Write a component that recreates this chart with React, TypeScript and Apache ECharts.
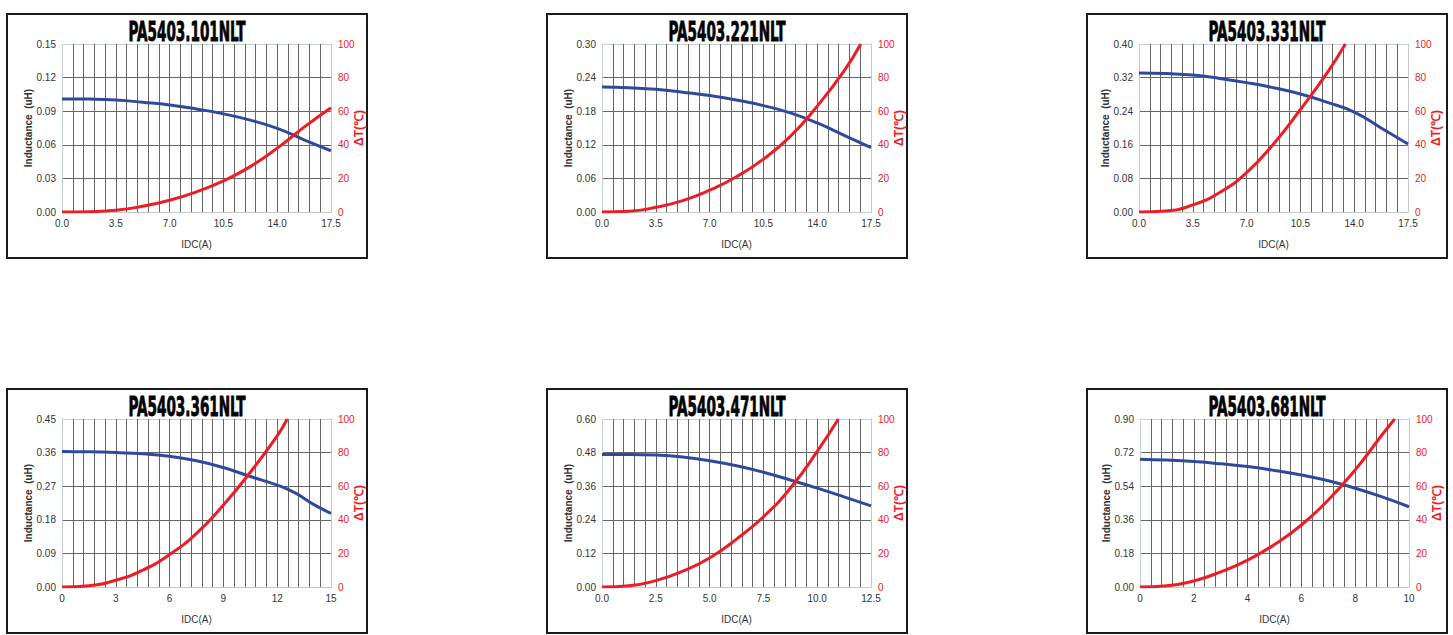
import React, { useEffect, useRef } from "react";
import * as echarts from "echarts";

// ---- Titles and axis ranges ----
const titles = ["PA5403.101NLT", "PA5403.221NLT", "PA5403.331NLT", "PA5403.361NLT", "PA5403.471NLT", "PA5403.681NLT"];
const idcMax = [17.5, 17.5, 17.5, 15, 12.5, 10];
const idcStep = [3.5, 3.5, 3.5, 3, 2.5, 2];
const idcDecimals = [1, 1, 1, 0, 1, 0];
const indMax = [0.15, 0.3, 0.4, 0.45, 0.6, 0.9];
const indStep = [0.03, 0.06, 0.08, 0.09, 0.12, 0.18];
const tempMax = 100;
const tempStep = 20;

// ---- Chart 1: PA5403.101NLT ----
const l1x = [0, 1.75, 3.5, 5.25, 7, 8.75, 10.5, 12.25, 14, 15.75, 17.5];
const l1y = [0.101, 0.1008, 0.1, 0.098, 0.0956, 0.092, 0.0876, 0.082, 0.0747, 0.0645, 0.0547];
const t1x = [0, 1.75, 3.5, 5.25, 7, 8.75, 10.5, 12.25, 14, 15.75, 17.5];
const t1y = [0, 0.2, 1, 3.4, 7, 12, 18.5, 27, 38, 50.5, 62];

// ---- Chart 2: PA5403.221NLT ----
const l2x = [0, 1.75, 3.5, 5.25, 7, 8.75, 10.5, 12.25, 14, 15.75, 17.5];
const l2y = [0.223, 0.222, 0.219, 0.214, 0.208, 0.2, 0.19, 0.177, 0.159, 0.137, 0.115];
const t2x = [0, 1.75, 3.5, 5.25, 7, 8.75, 10.5, 12.25, 14, 15.75, 16.83];
const t2y = [0, 0.4, 2.8, 6.8, 13, 21, 31.5, 45, 63, 84, 100];

// ---- Chart 3: PA5403.331NLT ----
const l3x = [0, 1.75, 3.5, 5.25, 7, 8.75, 10.5, 12.25, 14, 15.75, 17.5];
const l3y = [0.331, 0.33, 0.326, 0.318, 0.308, 0.296, 0.281, 0.261, 0.238, 0.2, 0.162];
const t3x = [0, 1.75, 3.5, 5.25, 7, 8.75, 10.5, 12.25, 13.43];
const t3y = [0, 0.6, 4.2, 11.6, 23.5, 40.5, 61, 83, 100];

// ---- Chart 4: PA5403.361NLT ----
const l4x = [0, 1.5, 3, 4.5, 6, 7.5, 9, 10.5, 12, 13, 14, 15];
const l4y = [0.363, 0.362, 0.36, 0.357, 0.35, 0.338, 0.32, 0.296, 0.273, 0.252, 0.222, 0.197];
const t4x = [0, 1.5, 3, 4.5, 6, 7.5, 9, 10.5, 12, 12.56];
const t4y = [0, 0.8, 4, 10, 19.3, 31.9, 48.8, 68.3, 90, 100];

// ---- Chart 5: PA5403.471NLT ----
const l5x = [0, 1.25, 2.5, 3.75, 5, 6.25, 7.5, 8.75, 10, 11.25, 12.5];
const l5y = [0.473, 0.473, 0.471, 0.464, 0.451, 0.433, 0.41, 0.382, 0.353, 0.322, 0.29];
const t5x = [0, 1.25, 2.5, 3.75, 5, 6.25, 7.5, 8.75, 10, 10.98];
const t5y = [0, 0.7, 3.8, 9.4, 17.3, 28.5, 41.8, 58.8, 80.7, 100];

// ---- Chart 6: PA5403.681NLT ----
const l6x = [0, 1, 2, 3, 4, 5, 6, 7, 8, 9, 10];
const l6y = [0.685, 0.68, 0.672, 0.66, 0.645, 0.624, 0.6, 0.569, 0.529, 0.483, 0.43];
const t6x = [0, 1, 2, 3, 4, 5, 6, 7, 8, 9, 9.47];
const t6y = [0, 0.7, 3.6, 9, 16, 25.3, 36.9, 51.8, 69.7, 90.6, 100];

const indX = [l1x, l2x, l3x, l4x, l5x, l6x];
const indY = [l1y, l2y, l3y, l4y, l5y, l6y];
const tmpX = [t1x, t2x, t3x, t4x, t5x, t6x];
const tmpY = [t1y, t2y, t3y, t4y, t5y, t6y];

// ---- Layout ----
const gridRects = [
  { left: 62, top: 44 },
  { left: 602, top: 44 },
  { left: 1139, top: 44 },
  { left: 62, top: 419 },
  { left: 602, top: 419 },
  { left: 1140, top: 419 },
];
const PLOT_W = 269;
const PLOT_H = 168;
const boxX = [7, 547, 1087];
const boxY = [14, 389];
const BOX_W = 360;
const BOX_H = 244;

const BLUE = "#2f4a9c";
const RED = "#ee1c25";
const GRIDC = "#666666";
const LABEL_FONT = "'Liberation Sans', Arial, sans-serif";

function pairs(xs: number[], ys: number[]) {
  return xs.map((x, i) => [x, ys[i]]);
}

export default function App() {
  const ref = useRef<HTMLDivElement>(null);
  useEffect(() => {
    if (!ref.current) return;
    const chart = echarts.init(ref.current, undefined, { renderer: "svg" });

    const grid: any[] = [];
    const xAxis: any[] = [];
    const yAxis: any[] = [];
    const series: any[] = [];
    const graphic: any[] = [];

    for (let i = 0; i < 6; i++) {
      grid.push({ left: gridRects[i].left, top: gridRects[i].top, width: PLOT_W, height: PLOT_H, containLabel: false });
      const dec = idcDecimals[i];
      xAxis.push({
        type: "value",
        gridIndex: i,
        min: 0,
        max: idcMax[i],
        interval: idcStep[i],
        name: "IDC(A)",
        nameLocation: "middle",
        nameGap: 27,
        nameMoveOverlap: false,
        nameTextStyle: { color: "#333", fontSize: 10, fontFamily: LABEL_FONT },
        axisLine: { show: true, lineStyle: { color: "#c8c8c8", width: 1 } },
        axisTick: { show: false },
        axisLabel: {
          color: "#333",
          fontSize: 10,
          fontFamily: LABEL_FONT,
          margin: 6,
          formatter: (v: number) => v.toFixed(dec),
        },
        splitLine: {
          show: true,
          lineStyle: { color: ["#c5d0dc", GRIDC, GRIDC, GRIDC, GRIDC, "#c8c8c8"], width: 1 },
        },
        minorTick: { show: false, splitNumber: 5 },
        minorSplitLine: { show: true, lineStyle: { color: GRIDC, width: 1 } },
      });
      yAxis.push({
        type: "value",
        gridIndex: i,
        position: "left",
        min: 0,
        max: indMax[i],
        interval: indStep[i],
        name: "Inductance  (uH)",
        nameLocation: "middle",
        nameRotate: 90,
        nameGap: 29,
        nameMoveOverlap: false,
        nameTextStyle: { color: "#333", fontSize: 10, fontWeight: "bold", fontFamily: LABEL_FONT },
        axisLine: { show: true, lineStyle: { color: "#c5d0dc", width: 1 } },
        axisTick: { show: false },
        axisLabel: {
          color: "#333",
          fontSize: 10,
          fontFamily: LABEL_FONT,
          margin: 6,
          formatter: (v: number) => v.toFixed(2),
        },
        splitLine: {
          show: true,
          lineStyle: { color: [GRIDC, GRIDC, GRIDC, GRIDC, GRIDC, "#c5d0dc"], width: 1 },
        },
      });
      yAxis.push({
        type: "value",
        gridIndex: i,
        position: "right",
        min: 0,
        max: tempMax,
        interval: tempStep,
        name: "ΔT(℃)",
        nameLocation: "middle",
        nameRotate: 90,
        nameGap: 22,
        nameMoveOverlap: false,
        nameTextStyle: { color: RED, fontSize: 12, fontWeight: "bold", fontFamily: LABEL_FONT },
        axisLine: { show: true, lineStyle: { color: "#c8c8c8", width: 1 } },
        axisTick: { show: false },
        axisLabel: { color: "#e8202a", fontSize: 10, fontFamily: LABEL_FONT, margin: 7 },
        splitLine: { show: false },
      });
      series.push({
        type: "line",
        xAxisIndex: i,
        yAxisIndex: 2 * i,
        data: pairs(indX[i], indY[i]),
        smooth: true,
        showSymbol: false,
        symbol: "none",
        lineStyle: { color: BLUE, width: 3 },
        z: 3,
      });
      series.push({
        type: "line",
        xAxisIndex: i,
        yAxisIndex: 2 * i + 1,
        data: pairs(tmpX[i], tmpY[i]),
        smooth: true,
        showSymbol: false,
        symbol: "none",
        lineStyle: { color: RED, width: 3 },
        z: 4,
      });

      const bx = boxX[i % 3];
      const by = boxY[Math.floor(i / 3)];
      graphic.push({
        type: "rect",
        shape: { x: bx, y: by, width: BOX_W, height: BOX_H },
        style: { fill: "none", stroke: "#1a1a1a", lineWidth: 2 },
        silent: true,
      });
      graphic.push({
        type: "text",
        x: bx + BOX_W / 2,
        y: by + 17.5,
        scaleX: 0.58,
        style: {
          text: titles[i],
          fontSize: 26,
          fontWeight: "bold",
          fontFamily: "'Liberation Sans Narrow', 'DejaVu Sans Condensed', sans-serif",
          fill: "#000",
          stroke: "#000",
          lineWidth: 0.8,
          textAlign: "center",
          textVerticalAlign: "middle",
          align: "center",
          verticalAlign: "middle",
        },
        silent: true,
      });
    }

    chart.setOption({
      animation: false,
      backgroundColor: "#ffffff",
      grid,
      xAxis,
      yAxis,
      series,
      graphic,
    });
    return () => chart.dispose();
  }, []);
  return (
    <div
      ref={ref}
      style={{ position: "absolute", left: 0, top: 0, width: 1453, height: 635 }}
    />
  );
}
